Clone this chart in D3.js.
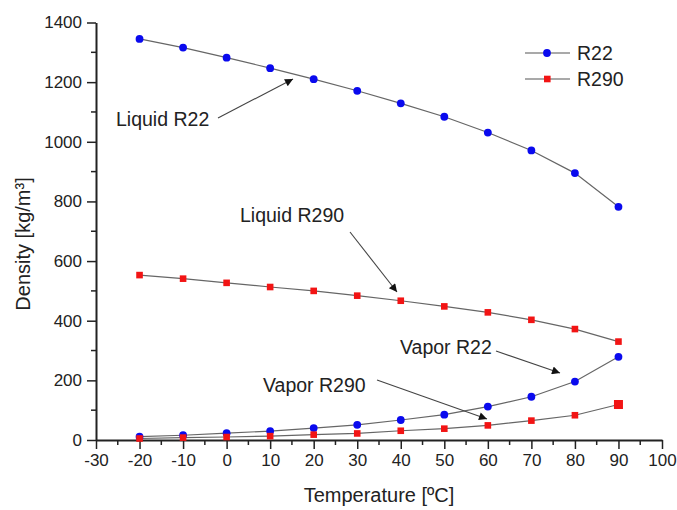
<!DOCTYPE html>
<html><head><meta charset="utf-8">
<script src="https://cdn.jsdelivr.net/npm/d3@7"></script>
<style>body{margin:0;background:#fff}svg{display:block;font-family:"Liberation Sans",Arial,sans-serif}</style>
</head><body><svg id="c" width="677" height="510"></svg>
<script>
const temps = [-20,-10,0,10,20,30,40,50,60,70,80,90];
const r22Liquid = [1345,1316,1282,1247,1210,1171,1129,1084,1031,971,895,782];
const r22Vapor  = [11,16,23,30,40,51,67,85,112,145,196,279];
const r290Liquid = [553,541,527,513,500,484,467,448,428,403,372,330];
const r290Vapor  = [5,8,10,13,18,22,31,38,49,65,83,119];
const xTicks = [-30,-20,-10,0,10,20,30,40,50,60,70,80,90,100];
const yTicks = [0,200,400,600,800,1000,1200,1400];
const seriesNames = ["R22","R290"];
const annotations = [
  {text:"Liquid R22", tx:116, ty:119, x1:218, y1:118, x2:293, y2:79},
  {text:"Liquid R290", tx:240, ty:215, x1:350, y1:232, x2:397, y2:292},
  {text:"Vapor R22", tx:400, ty:347, x1:496, y1:351, x2:560, y2:373},
  {text:"Vapor R290", tx:263, ty:385, x1:377, y1:380, x2:487, y2:419}
];

const svg = d3.select("#c");
const x = d3.scaleLinear().domain([-30,100]).range([96,662]);
const y = d3.scaleLinear().domain([0,1400]).range([440,22.5]);
const axisColor = "#222";
const fmt = d => String(d);

const gx = svg.append("g").attr("transform","translate(0,440)");
gx.selectAll("line.minor").data(d3.range(-25,100,10)).join("line")
  .attr("x1",d=>x(d)).attr("x2",d=>x(d)).attr("y1",0).attr("y2",5)
  .attr("stroke",axisColor).attr("stroke-width",1.5);
const xAxis = d3.axisBottom(x).tickValues(xTicks).tickFormat(fmt).tickSize(9).tickPadding(5).tickSizeOuter(0);
gx.call(xAxis);
gx.select(".domain").attr("stroke",axisColor).attr("stroke-width",2);
gx.selectAll(".tick line").attr("stroke",axisColor).attr("stroke-width",1.5);
gx.selectAll(".tick text").attr("font-size",17).attr("fill","#222").attr("font-family","Liberation Sans, Arial, sans-serif");

const gy = svg.append("g").attr("transform","translate(96,0)");
gy.selectAll("line.minor").data(d3.range(100,1400,200)).join("line")
  .attr("x1",0).attr("x2",-5).attr("y1",d=>y(d)).attr("y2",d=>y(d))
  .attr("stroke",axisColor).attr("stroke-width",1.5);
const yAxis = d3.axisLeft(y).tickValues(yTicks).tickFormat(fmt).tickSize(9).tickPadding(5).tickSizeOuter(0);
gy.call(yAxis);
gy.select(".domain").attr("stroke",axisColor).attr("stroke-width",2);
gy.selectAll(".tick line").attr("stroke",axisColor).attr("stroke-width",1.5);
gy.selectAll(".tick text").attr("font-size",17).attr("fill","#222").attr("font-family","Liberation Sans, Arial, sans-serif");

svg.append("text").attr("x",379).attr("y",502).attr("text-anchor","middle")
  .attr("font-size",20).attr("fill","#222").text("Temperature [ºC]");
svg.append("text").attr("transform","translate(30,244) rotate(-90)").attr("text-anchor","middle")
  .attr("font-size",20).attr("fill","#222").text("Density [kg/m³]");

const line = d3.line().x((d,i)=>x(temps[i])).y(d=>y(d));
[r22Liquid,r22Vapor,r290Liquid,r290Vapor].forEach(arr=>{
  svg.append("path").attr("d",line(arr)).attr("fill","none").attr("stroke","#666").attr("stroke-width",1.2);
});

const blue = "#0a0aee", red = "#f21414";
function circles(arr){
  svg.append("g").selectAll("circle").data(arr).join("circle")
    .attr("cx",(d,i)=>x(temps[i])).attr("cy",d=>y(d)).attr("r",3.9).attr("fill",blue);
}
function squares(arr, bigLast){
  svg.append("g").selectAll("rect").data(arr).join("rect")
    .each(function(d,i){
      const s = (bigLast && i===arr.length-1) ? 9 : 6.6;
      d3.select(this).attr("x",x(temps[i])-s/2).attr("y",y(d)-s/2).attr("width",s).attr("height",s);
    }).attr("fill",red);
}
circles(r22Liquid); circles(r22Vapor);
squares(r290Liquid,false); squares(r290Vapor,true);

svg.append("defs").append("marker").attr("id","ah").attr("viewBox","0 0 10 10")
  .attr("refX",10).attr("refY",5).attr("markerWidth",11).attr("markerHeight",8)
  .attr("markerUnits","userSpaceOnUse").attr("orient","auto")
  .append("path").attr("d","M0,0 L10,5 L0,10 z").attr("fill","#111");
annotations.forEach(a=>{
  svg.append("text").attr("x",a.tx).attr("y",a.ty).attr("dy","0.35em")
    .attr("font-size",19.5).attr("fill","#222").text(a.text);
  svg.append("line").attr("x1",a.x1).attr("y1",a.y1).attr("x2",a.x2).attr("y2",a.y2)
    .attr("stroke","#444").attr("stroke-width",1.1).attr("marker-end","url(#ah)");
});

const lg = svg.append("g");
seriesNames.forEach((n,i)=>{
  const ly = 53 + i*26;
  lg.append("line").attr("x1",525).attr("x2",570).attr("y1",ly).attr("y2",ly).attr("stroke","#555").attr("stroke-width",1.1);
  if(i===0) lg.append("circle").attr("cx",547).attr("cy",ly).attr("r",3.9).attr("fill",blue);
  else lg.append("rect").attr("x",544).attr("y",ly-3.3).attr("width",6.6).attr("height",6.6).attr("fill",red);
  lg.append("text").attr("x",577).attr("y",ly).attr("dy","0.35em").attr("font-size",19.5).attr("fill","#222").text(n);
});
</script></body></html>
